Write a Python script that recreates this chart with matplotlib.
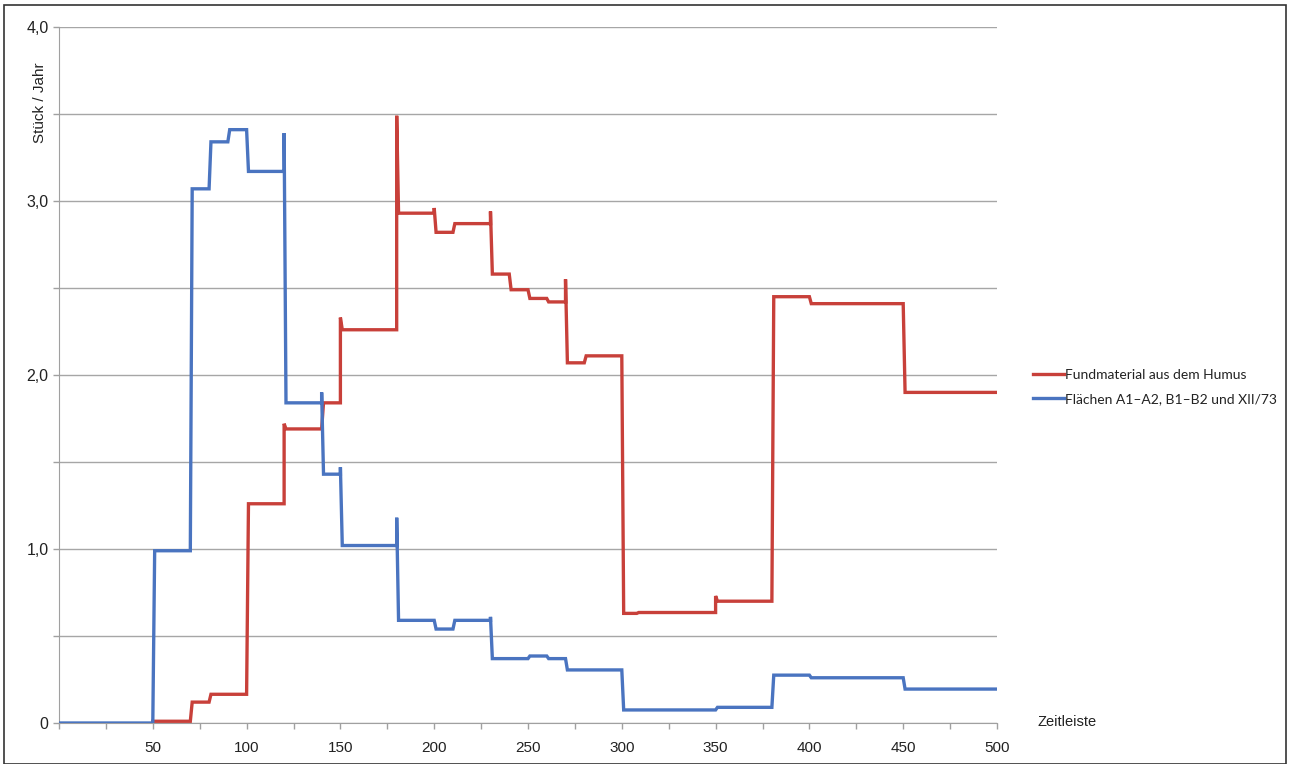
import matplotlib
matplotlib.use("Agg")
import matplotlib.pyplot as plt
from matplotlib.patches import Rectangle

# step data: edges (years), level per interval, spikes at edges
blue_edges = [0, 50, 70, 80, 90, 100, 120, 140, 150, 180, 200, 210, 230, 250, 260, 270, 300, 350, 380, 400, 450, 500]
blue_levels = [0, 0.99, 3.07, 3.34, 3.41, 3.17, 1.84, 1.43, 1.02, 0.59, 0.54, 0.59, 0.37, 0.385, 0.37, 0.305, 0.075, 0.09, 0.275, 0.26, 0.195]
blue_spikes = {120: 3.39, 140: 1.90, 150: 1.47, 180: 1.18, 230: 0.61}

red_edges = [50, 70, 80, 100, 120, 140, 150, 180, 200, 210, 230, 240, 250, 260, 270, 280, 300, 308, 350, 380, 400, 450, 500]
red_levels = [0.01, 0.12, 0.165, 1.26, 1.69, 1.84, 2.26, 2.93, 2.82, 2.87, 2.58, 2.49, 2.44, 2.42, 2.07, 2.11, 0.63, 0.635, 0.70, 2.45, 2.41, 1.90]
red_spikes = {120: 1.72, 150: 2.33, 180: 3.49, 200: 2.96, 230: 2.94, 270: 2.55, 350: 0.73}

red_label = "Fundmaterial aus dem Humus"
blue_label = "Flächen A1–A2, B1–B2 und XII/73"

x_ticks = list(range(0, 501, 25))
x_labels = [str(v) if v % 50 == 0 and v > 0 else "" for v in x_ticks]
y_ticks = [0, 0.5, 1, 1.5, 2, 2.5, 3, 3.5, 4]
y_labels = ["0", "", "1,0", "", "2,0", "", "3,0", "", "4,0"]


def step_line(edges, levels, spikes):
    # each change takes about one year, like the original export
    xs, ys = [edges[0]], [levels[0]]
    for i in range(1, len(levels)):
        e = edges[i]
        xs.append(e)
        ys.append(levels[i - 1])
        if e in spikes:
            xs.append(e)
            ys.append(spikes[e])
        xs.append(e + 1)
        ys.append(levels[i])
    xs.append(edges[-1])
    ys.append(levels[-1])
    return xs, ys


plt.rcParams["font.family"] = ["Liberation Sans", "DejaVu Sans"]

fig = plt.figure(figsize=(12.9, 7.64), dpi=100)
ax = fig.add_axes([59 / 1290, 1 - 723 / 764, (997 - 59) / 1290, (723 - 27) / 764])

rx, ry = step_line(red_edges, red_levels, red_spikes)
bx, by = step_line(blue_edges, blue_levels, blue_spikes)
ax.plot(rx, ry, color="#c8403a", lw=2.4, label=red_label, solid_joinstyle="miter", zorder=3)
ax.plot(bx, by, color="#4a74c0", lw=2.4, label=blue_label, solid_joinstyle="miter", zorder=4)

ax.set_xlim(0, 500)
ax.set_ylim(0, 4)
ax.set_xticks(x_ticks)
ax.set_xticklabels(x_labels, fontsize=11, color="#222222")
ax.set_yticks(y_ticks)
ax.set_yticklabels(y_labels, fontsize=11.5, color="#222222")
ax.tick_params(axis="both", length=4, color="#a0a0a0", width=1)
ax.tick_params(axis="x", pad=9)
ax.grid(axis="y", color="#a6a6a6", lw=1)
ax.set_axisbelow(True)
for s in ["top", "right"]:
    ax.spines[s].set_visible(False)
for s in ["left", "bottom"]:
    ax.spines[s].set_color("#a0a0a0")

fig.text(40 / 1290, 1 - 103 / 764, "Stück / Jahr", rotation=90, ha="center", va="center",
         fontsize=11, color="#222222")
fig.text(1038 / 1290, 1 - 722 / 764, "Zeitleiste", ha="left", va="center",
         fontsize=10.5, color="#222222")

leg = fig.legend(loc="center left", bbox_to_anchor=(1020 / 1290, 1 - 387 / 764), frameon=False,
                 prop={"family": "Lato", "size": 10}, handlelength=2.3, handletextpad=0.05,
                 labelspacing=0.9)
for t in leg.get_texts():
    t.set_color("#222222")

fig.patches.append(Rectangle((4 / 1290, 0), 1 - 8 / 1290, 1 - 5 / 764, transform=fig.transFigure,
                             fill=False, edgecolor="#333333", lw=1.2))

fig.savefig("out.png", dpi=100)
